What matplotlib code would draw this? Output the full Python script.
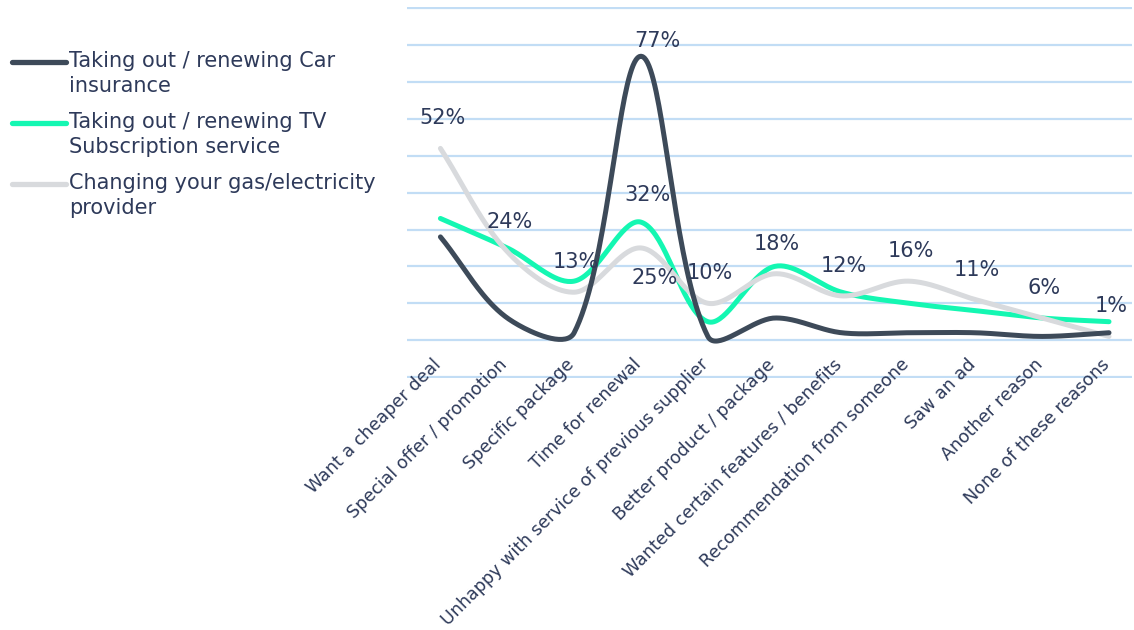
import matplotlib.pyplot as plt
import numpy as np
from matplotlib.lines import Line2D
from matplotlib.transforms import ScaledTranslation

# reasons for switching, % of respondents
categories = ['Want a cheaper deal', 'Special offer / promotion', 'Specific package',
              'Time for renewal', 'Unhappy with service of previous supplier',
              'Better product / package', 'Wanted certain features / benefits',
              'Recommendation from someone', 'Saw an ad', 'Another reason',
              'None of these reasons']
car = [28, 6, 2, 77, 1, 6, 2, 2, 2, 1, 2]
tv = [33, 25, 16, 32, 5, 20, 13, 10, 8, 6, 5]
gas = [52, 24, 13, 25, 10, 18, 12, 16, 11, 6, 1]
names = ['Taking out / renewing Car\ninsurance',
         'Taking out / renewing TV\nSubscription service',
         'Changing your gas/electricity\nprovider']

TEXT = '#2e3a5a'
colors = ['#3d4a59', '#14f7b2', '#d8dadd']

W, H = 1134, 630
fig = plt.figure(figsize=(W / 100, H / 100), dpi=100)
ax = fig.add_axes([407 / W, 1 - 378.1 / H, (1132.4 - 407) / W, (378.1 - 7.2) / H])
ax.set_xlim(-0.5, 10.35)
ax.set_ylim(-10.3, 90.3)

for v in range(-10, 91, 10):
    ax.axhline(v, color='#c2ddf5', lw=1.6, zorder=0)

for s in ax.spines.values():
    s.set_visible(False)
ax.spines['bottom'].set_position(('data', 0))
ax.set_yticks([])
ax.set_xticks(range(len(categories)))
ax.set_xticklabels(categories, rotation=45, ha='right', va='top',
                   fontsize=12.6, color=TEXT)
ax.tick_params(axis='x', length=0, pad=11)
shift = ScaledTranslation(4 / 100, 0, fig.dpi_scale_trans)
for lab in ax.get_xticklabels():
    lab.set_transform(lab.get_transform() + shift)


def smooth(x, y, n=40):
    # excel-like smoothed line: bezier segments, tangents scaled by chord length
    pts = ax.transData.transform(np.column_stack([x, y]))
    m = len(pts)
    out = [pts[:1]]
    t = np.linspace(0, 1, n)[1:, None]
    for i in range(m - 1):
        p0 = pts[i - 1] if i > 0 else pts[i]
        p1, p2 = pts[i], pts[i + 1]
        p3 = pts[i + 2] if i + 2 < m else pts[i + 1]
        l01 = np.hypot(*(p1 - p0))
        l12 = np.hypot(*(p2 - p1))
        l23 = np.hypot(*(p3 - p2))
        c1 = p1 + (p2 - p0) * (l12 / (l01 + l12)) / 3
        c2 = p2 - (p3 - p1) * (l12 / (l12 + l23)) / 3
        seg = ((1 - t) ** 3 * p1 + 3 * (1 - t) ** 2 * t * c1
               + 3 * (1 - t) * t ** 2 * c2 + t ** 3 * p2)
        out.append(seg)
    d = ax.transData.inverted().transform(np.vstack(out))
    return d[:, 0], d[:, 1]


x = np.arange(len(categories))
for vals, c, z in [(tv, colors[1], 2), (gas, colors[2], 3), (car, colors[0], 4)]:
    sx, sy = smooth(x, vals)
    ax.plot(sx, sy, color=c, lw=3.6, solid_capstyle='round', zorder=z)

# data labels (series, index, offset in pixels)
labels = [(gas, i, 2, 30) for i in range(len(categories)) if i != 3]
labels += [(car, 3, 16, 15), (tv, 3, 6, 27), (gas, 3, 14, -30)]
for vals, i, dx, dy in labels:
    ax.annotate(f'{vals[i]}%', (i, vals[i]), xytext=(dx, dy),
                textcoords='offset pixels', ha='center', va='center',
                fontsize=15, color=TEXT, zorder=6)

# legend
for k, (name, c) in enumerate(zip(names, colors)):
    yy = 1 - (62 + 61 * k) / H
    fig.add_artist(Line2D([12 / W, 66 / W], [yy, yy], color=c, lw=3.8,
                          solid_capstyle='round'))
    fig.text(69 / W, yy + 11 / H, name, fontsize=15, color=TEXT,
             ha='left', va='top', linespacing=1.3)

fig.savefig('out.png', dpi=100)
